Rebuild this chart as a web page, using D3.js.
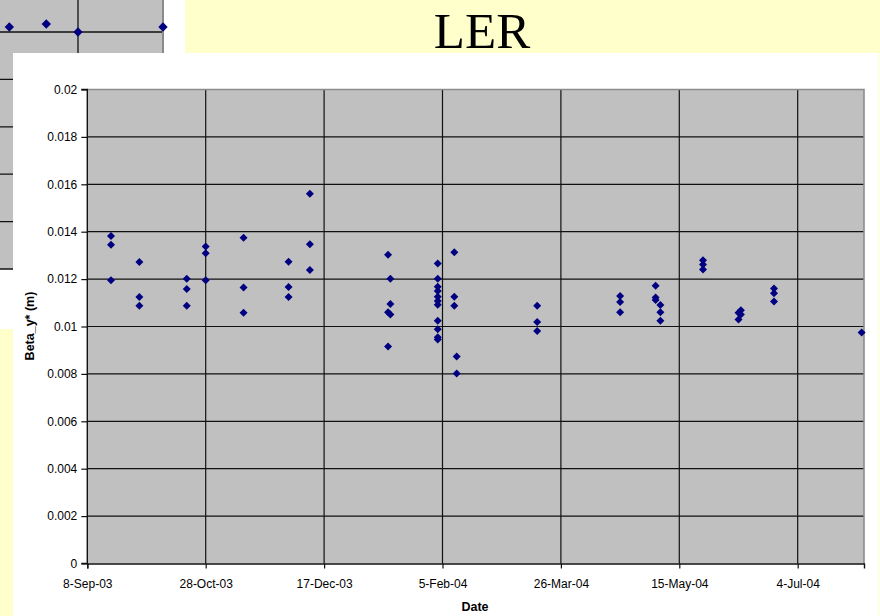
<!DOCTYPE html>
<html>
<head>
<meta charset="utf-8">
<script src="https://cdn.jsdelivr.net/npm/d3@7"></script>
<style>
  html, body { margin: 0; padding: 0; background: #fff; }
  svg { display: block; }
</style>
</head>
<body>
<svg id="slide" width="880" height="616"></svg>
<script>
// Measurement dates and vertical beta function at the IP (m)
const measDates = [
  "2003-09-18","2003-09-18","2003-09-18",
  "2003-09-30","2003-09-30","2003-09-30",
  "2003-10-20","2003-10-20","2003-10-20",
  "2003-10-28","2003-10-28","2003-10-28",
  "2003-11-13","2003-11-13","2003-11-13",
  "2003-12-02","2003-12-02","2003-12-02",
  "2003-12-11","2003-12-11","2003-12-11",
  "2004-01-13","2004-01-13","2004-01-13",
  "2004-01-14","2004-01-14","2004-01-14",
  "2004-02-03","2004-02-03","2004-02-03","2004-02-03","2004-02-03","2004-02-03",
  "2004-02-03","2004-02-03","2004-02-03","2004-02-03","2004-02-03",
  "2004-02-10","2004-02-10","2004-02-10",
  "2004-02-11","2004-02-11",
  "2004-03-16","2004-03-16","2004-03-16",
  "2004-04-20","2004-04-20","2004-04-20",
  "2004-05-05","2004-05-05","2004-05-05",
  "2004-05-07","2004-05-07","2004-05-07",
  "2004-05-25","2004-05-25","2004-05-25",
  "2004-06-09","2004-06-09",
  "2004-06-10","2004-06-10",
  "2004-06-24","2004-06-24","2004-06-24",
  "2004-07-31"
];
const betaY = [
  0.01382, 0.01345, 0.01195,
  0.01272, 0.01124, 0.01088,
  0.01202, 0.01158, 0.01088,
  0.01338, 0.01309, 0.01195,
  0.01375, 0.01165, 0.01058,
  0.01273, 0.01167, 0.01124,
  0.01560, 0.01347, 0.01238,
  0.01303, 0.01060, 0.00916,
  0.01202, 0.01095, 0.01051,
  0.01266, 0.01202, 0.01168, 0.01150, 0.01126, 0.01108,
  0.01092, 0.01024, 0.00988, 0.00955, 0.00945,
  0.01313, 0.01126, 0.01088,
  0.00873, 0.00802,
  0.01088, 0.01019, 0.00981,
  0.01129, 0.01103, 0.01060,
  0.01172, 0.01122, 0.01112,
  0.01091, 0.01060, 0.01024,
  0.01280, 0.01262, 0.01241,
  0.01058, 0.01030,
  0.01069, 0.01051,
  0.01160, 0.01140, 0.01105,
  0.00975
];

// Axis ticks
const xTickDates = ["2003-09-08","2003-10-28","2003-12-17","2004-02-05","2004-03-26","2004-05-15","2004-07-04"];
const xDomain = ["2003-09-08", "2004-08-01"];
const yTicks = [0, 0.002, 0.004, 0.006, 0.008, 0.01, 0.012, 0.014, 0.016, 0.018, 0.02];

// Partly covered companion chart behind the main one (day offsets, values)
const bgDays = [21, 36.6, 50, 85.9];
const bgValues = [0.01021, 0.01034, 0.0100, 0.01021];
const bgGrid = [0.002, 0.004, 0.006, 0.008, 0.010];

const title = "LER";
const xTitle = "Date";
const yTitle = "Beta_y* (m)";

const parse = d3.utcParse("%Y-%m-%d");
const fmtDate = d3.utcFormat("%-d-%b-%y");
const svg = d3.select("#slide");
const YELLOW = "#FFFFCC";
const PLOT_GRAY = "#C0C0C0";
const NAVY = "#000080";

// ---- companion chart in the top-left corner ----
const bg = svg.append("g");
const bgX = d3.scaleLinear().domain([50, 85.9]).range([78, 163]);
const bgY = d3.scaleLinear().domain([0, 0.002]).range([269, 221.6]);
bg.append("rect").attr("x", -5).attr("y", -5).attr("width", 168).attr("height", 274).attr("fill", PLOT_GRAY);
bg.selectAll("line.h").data(bgGrid).join("line")
  .attr("x1", 0).attr("x2", 163).attr("y1", d => bgY(d)).attr("y2", d => bgY(d))
  .attr("stroke", "#111").attr("stroke-width", 1.3);
bg.append("line").attr("x1", bgX(50)).attr("x2", bgX(50)).attr("y1", 0).attr("y2", 269)
  .attr("stroke", "#111").attr("stroke-width", 1.3);
bg.append("line").attr("x1", 163).attr("x2", 163).attr("y1", 0).attr("y2", 269)
  .attr("stroke", "#8a8a8a").attr("stroke-width", 2);
bg.append("line").attr("x1", 0).attr("x2", 163).attr("y1", 269).attr("y2", 269)
  .attr("stroke", "#111").attr("stroke-width", 1.3);
const bigDiamond = d3.symbol().type(d3.symbolSquare).size(44)();
bg.selectAll("path.pt").data(bgDays).join("path")
  .attr("d", bigDiamond)
  .attr("transform", (d, i) => `translate(${bgX(d)},${bgY(bgValues[i])}) rotate(45)`)
  .attr("fill", NAVY);

// ---- slide title band and side strip ----
svg.append("rect").attr("x", 185).attr("y", 0).attr("width", 695).attr("height", 53).attr("fill", YELLOW);
svg.append("text").attr("x", 482).attr("y", 48)
  .attr("text-anchor", "middle")
  .attr("font-family", "'Liberation Serif', 'Times New Roman', serif")
  .attr("font-size", 51).attr("fill", "#000").text(title);
svg.append("rect").attr("x", 0).attr("y", 329).attr("width", 13).attr("height", 287).attr("fill", YELLOW);
svg.append("rect").attr("x", 878).attr("y", 53).attr("width", 2).attr("height", 563).attr("fill", "#FFFFE4");

// ---- chart panel ----
svg.append("rect").attr("x", 13).attr("y", 53).attr("width", 865).attr("height", 563).attr("fill", "#fff");

const pLeft = 87.3, pRight = 864, pTop = 89.5, pBottom = 563.5;
const x = d3.scaleUtc().domain(xDomain.map(parse)).range([pLeft, pRight]);
const y = d3.scaleLinear().domain([0, 0.02]).range([pBottom, pTop]);

const plot = svg.append("g");
plot.append("rect").attr("x", pLeft).attr("y", pTop).attr("width", pRight - pLeft).attr("height", pBottom - pTop)
  .attr("fill", PLOT_GRAY);

// horizontal grid
plot.selectAll("line.hg").data(yTicks.filter(d => d > 0 && d < 0.02)).join("line")
  .attr("x1", pLeft).attr("x2", pRight)
  .attr("y1", d => y(d)).attr("y2", d => y(d))
  .attr("stroke", "#111").attr("stroke-width", 1.2);
// vertical grid
plot.selectAll("line.vg").data(xTickDates.slice(1)).join("line")
  .attr("x1", d => x(parse(d))).attr("x2", d => x(parse(d)))
  .attr("y1", pTop).attr("y2", pBottom)
  .attr("stroke", "#111").attr("stroke-width", 1.2);
// plot frame (top and right)
plot.append("path")
  .attr("d", `M${pLeft},${pTop}H${pRight}V${pBottom}`)
  .attr("fill", "none").attr("stroke", "#8c8c8c").attr("stroke-width", 1.6);

// axes
const tickFont = "'Liberation Sans', Arial, Helvetica, sans-serif";
const yAxis = d3.axisLeft(y).tickValues(yTicks).tickFormat(d3.format("~g")).tickSize(6).tickPadding(4);
const gy = svg.append("g").attr("transform", `translate(${pLeft},0)`).call(yAxis);
const xAxis = d3.axisBottom(x).tickValues(xTickDates.map(parse)).tickFormat(fmtDate).tickSize(5).tickPadding(11);
const gx = svg.append("g").attr("transform", `translate(0,${pBottom})`).call(xAxis);
[gx, gy].forEach(g => {
  g.select(".domain").attr("stroke", "#111").attr("stroke-width", 1.4);
  g.selectAll(".tick line").attr("stroke", "#111").attr("stroke-width", 1.2);
  g.selectAll(".tick text").attr("font-family", tickFont).attr("font-size", 12).attr("fill", "#000");
});
gy.select(".domain").attr("d", `M-6,${pTop}H0V${pBottom}H-6`);

// axis titles
svg.append("text").attr("x", 475).attr("y", 611).attr("text-anchor", "middle")
  .attr("font-family", tickFont).attr("font-weight", "bold").attr("font-size", 12.5).text(xTitle);
svg.append("text").attr("transform", "translate(34,326) rotate(-90)").attr("text-anchor", "middle")
  .attr("font-family", tickFont).attr("font-weight", "bold").attr("font-size", 12.5).text(yTitle);

// data points
const diamond = d3.symbol().type(d3.symbolSquare).size(32)();
plot.selectAll("path.pt").data(betaY).join("path")
  .attr("d", diamond)
  .attr("transform", (d, i) => `translate(${x(parse(measDates[i]))},${y(d)}) rotate(45)`)
  .attr("fill", NAVY);
</script>
</body>
</html>
